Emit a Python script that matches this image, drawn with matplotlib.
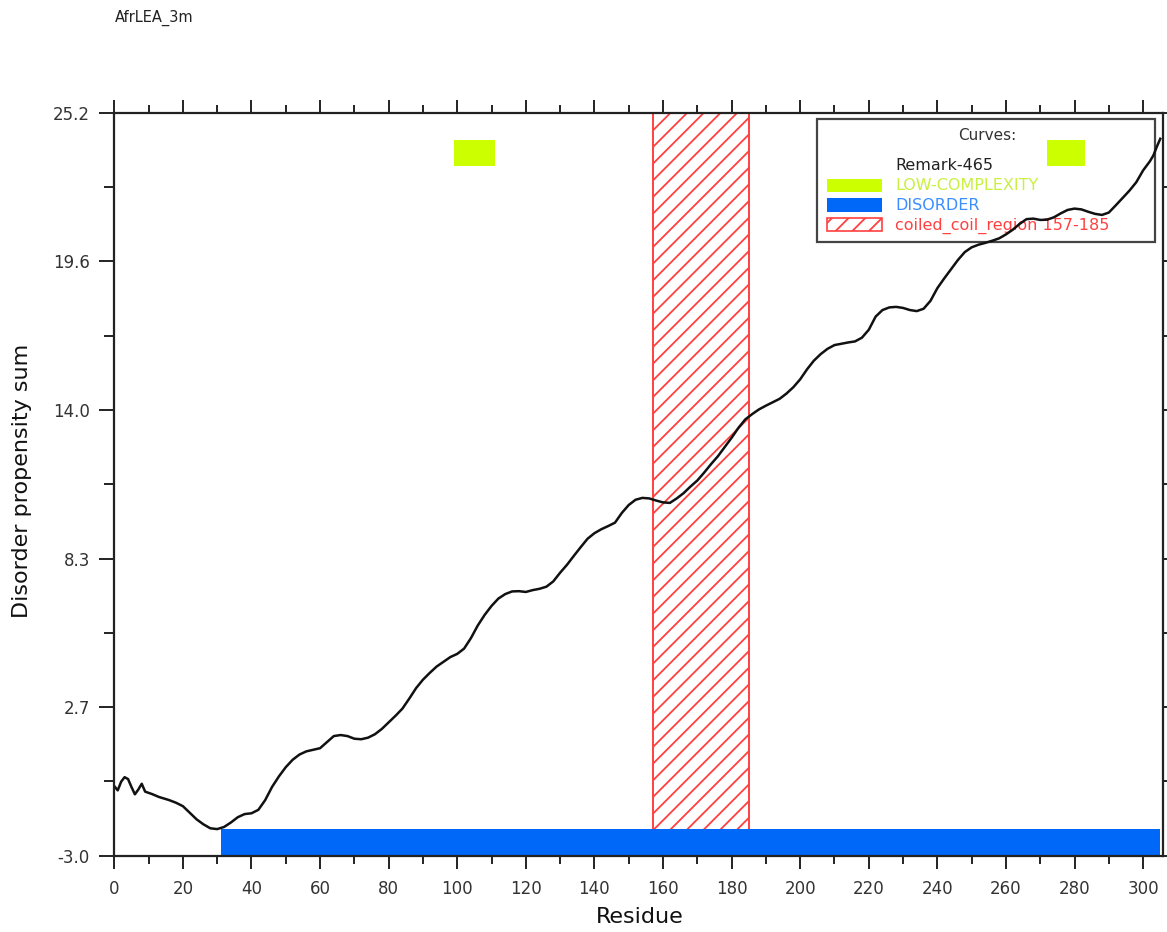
import matplotlib
matplotlib.use("Agg")
import matplotlib.pyplot as plt
from matplotlib.patches import Rectangle
import numpy as np

# ---------------- data ----------------
title = "AfrLEA_3m"
x_label = "Residue"
y_label = "Disorder propensity sum"

residues = [0, 1, 2, 3, 4, 5, 6, 7, 8, 9, 11, 13, 16, 18, 20, 22, 24, 26, 28, 30,
            32, 34, 36, 38, 40, 42, 44, 46, 48, 50, 52, 54, 56, 58, 60, 62, 64, 66,
            68, 70, 72, 74, 76, 78, 80, 82, 84, 86, 88, 90, 92, 94, 96, 98, 100,
            102, 104, 106, 108, 110, 112, 114, 116, 118, 120, 122, 124, 126, 128,
            130, 132, 134, 136, 138, 140, 142, 144, 146, 148, 150, 152, 154, 156,
            158, 160, 162, 164, 166, 168, 170, 172, 174, 176, 178, 180, 182, 184,
            186, 188, 190, 192, 194, 196, 198, 200, 202, 204, 206, 208, 210, 212,
            214, 216, 218, 220, 222, 224, 226, 228, 230, 232, 234, 236, 238, 240,
            242, 244, 246, 248, 250, 252, 254, 256, 258, 260, 262, 264, 266, 268,
            270, 272, 274, 276, 278, 280, 282, 284, 286, 288, 290, 292, 294, 296,
            298, 300, 302, 303, 304, 305]
propensity = [-0.32, -0.48, -0.15, 0.02, -0.05, -0.35, -0.63, -0.45, -0.23, -0.53,
              -0.62, -0.73, -0.85, -0.95, -1.08, -1.33, -1.58, -1.77, -1.92, -1.95,
              -1.87, -1.70, -1.50, -1.38, -1.35, -1.22, -0.85, -0.35, 0.05, 0.40,
              0.68, 0.88, 1.00, 1.06, 1.12, 1.35, 1.58, 1.62, 1.58, 1.48, 1.46,
              1.52, 1.65, 1.85, 2.10, 2.35, 2.62, 3.00, 3.40, 3.72, 3.98, 4.22,
              4.40, 4.58, 4.70, 4.90, 5.30, 5.78, 6.18, 6.52, 6.80, 6.97, 7.07,
              7.08, 7.05, 7.12, 7.17, 7.25, 7.45, 7.78, 8.08, 8.42, 8.75, 9.07,
              9.28, 9.43, 9.55, 9.68, 10.05, 10.35, 10.55, 10.62, 10.60, 10.52,
              10.45, 10.43, 10.60, 10.80, 11.05, 11.28, 11.58, 11.90, 12.20, 12.55,
              12.90, 13.28, 13.60, 13.80, 13.98, 14.12, 14.25, 14.38, 14.58, 14.82,
              15.12, 15.50, 15.83, 16.08, 16.28, 16.42, 16.47, 16.52, 16.56, 16.70,
              17.00, 17.50, 17.75, 17.85, 17.87, 17.83, 17.75, 17.71, 17.80, 18.10,
              18.58, 18.95, 19.30, 19.65, 19.95, 20.13, 20.23, 20.30, 20.38, 20.47,
              20.62, 20.80, 21.02, 21.20, 21.22, 21.17, 21.18, 21.27, 21.42, 21.55,
              21.60, 21.57, 21.48, 21.40, 21.36, 21.45, 21.72, 22.00, 22.28, 22.60,
              23.05, 23.40, 23.62, 23.95, 24.25]

low_complexity_regions = [(99, 111), (272, 283)]
low_complexity_y = (23.2, 24.2)
disorder_regions = [(31, 305)]
disorder_y = (-2.96, -1.95)
coiled_coil_regions = [(157, 185)]

x_major_ticks = list(range(0, 301, 20))
x_minor_ticks = list(range(10, 306, 20))
y_tick_values = [-2.96, 2.68, 8.32, 13.96, 19.60, 25.24]
y_tick_labels = ["-3.0", "2.7", "8.3", "14.0", "19.6", "25.2"]
x_limits = (0, 305.8)
y_limits = (-2.96, 25.24)

legend_title = "Curves:"
legend_curve_name = "Remark-465"
legend_labels = ["LOW-COMPLEXITY", "DISORDER", "coiled_coil_region 157-185"]

# ---------------- style ----------------
LC_COLOR = "#CCFF00"
LC_TEXT = "#C8F040"
DIS_COLOR = "#0068F8"
DIS_TEXT = "#3A8EFF"
CC_COLOR = "#FF4040"
AX_COLOR = "#222222"

plt.rcParams['font.family'] = ['DejaVu Sans']
plt.rcParams['hatch.linewidth'] = 1.3

fig = plt.figure(figsize=(11.67, 9.32), dpi=100)
W, H = 1167, 932
ax_left, ax_right, ax_top, ax_bot = 114.3, 1163.0, 112.7, 855.7
ax = fig.add_axes([ax_left / W, 1 - ax_bot / H, (ax_right - ax_left) / W, (ax_bot - ax_top) / H])

# coiled coil hatched region
for (a, b) in coiled_coil_regions:
    ax.add_patch(Rectangle((a, y_limits[0]), b - a, y_limits[1] - y_limits[0],
                           facecolor="none", edgecolor=CC_COLOR, hatch="//",
                           linewidth=1.4, zorder=1))

# disorder bar
for (a, b) in disorder_regions:
    ax.add_patch(Rectangle((a, disorder_y[0]), b - a, disorder_y[1] - disorder_y[0],
                           facecolor=DIS_COLOR, edgecolor="none", zorder=2))

# legend box (manual, axes coords)
def axc(px, py):
    return ((px - ax_left) / (ax_right - ax_left), (ax_bot - py) / (ax_bot - ax_top))

x0, y0 = axc(817, 241.7)
x1, y1 = axc(1155, 119.3)
ax.add_patch(Rectangle((x0, y0), x1 - x0, y1 - y0, transform=ax.transAxes,
                       facecolor="white", edgecolor="#444444", linewidth=1.6, zorder=3))
cx, cy = axc(987, 135)
ax.text(cx, cy, legend_title, transform=ax.transAxes, ha='center', va='center',
        fontsize=11, color="#333333", zorder=3.5)
tx, ty = axc(895, 165)
ax.text(tx, ty, legend_curve_name, transform=ax.transAxes, ha='left', va='center',
        fontsize=11.5, color="#222222", zorder=3.5)

handle_rows = [(179, 191.7, 185), (198, 211.7, 205), (218, 230.7, 225.5)]
face = [LC_COLOR, DIS_COLOR, "white"]
edge = ["none", "none", CC_COLOR]
hatches = [None, None, "//"]
tcolors = [LC_TEXT, DIS_TEXT, CC_COLOR]
for i, lab in enumerate(legend_labels):
    top, bot, mid = handle_rows[i]
    hx0, hy0 = axc(827, bot)
    hx1, hy1 = axc(882, top)
    ax.add_patch(Rectangle((hx0, hy0), hx1 - hx0, hy1 - hy0, transform=ax.transAxes,
                           facecolor=face[i], edgecolor=edge[i], hatch=hatches[i],
                           linewidth=1.2, zorder=3.5))
    lx, ly = axc(895, mid)
    ax.text(lx, ly, lab, transform=ax.transAxes, ha='left', va='center',
            fontsize=11.5, color=tcolors[i], zorder=3.5)

# low complexity boxes (drawn over the legend)
for (a, b) in low_complexity_regions:
    ax.add_patch(Rectangle((a, low_complexity_y[0]), b - a,
                           low_complexity_y[1] - low_complexity_y[0],
                           facecolor=LC_COLOR, edgecolor="none", zorder=5))

# curve
ax.plot(residues, propensity, color="#111111", linewidth=1.8, zorder=6)

ax.set_xlim(*x_limits)
ax.set_ylim(*y_limits)

ax.set_xticks(x_major_ticks)
ax.set_xticks(x_minor_ticks, minor=True)
ax.set_yticks(y_tick_values)
ax.set_yticklabels(y_tick_labels)
y_minor = [(y_tick_values[i] + y_tick_values[i + 1]) / 2 for i in range(len(y_tick_values) - 1)]
ax.set_yticks(y_minor, minor=True)

for s in ax.spines.values():
    s.set_color(AX_COLOR)
    s.set_linewidth(1.6)
    s.set_zorder(7)

ax.tick_params(axis='both', which='both', direction='out', top=True, right=True,
               color=AX_COLOR, width=1.4, labelcolor="#333333")
ax.tick_params(axis='x', which='major', length=9.5, labelsize=12, pad=8)
ax.tick_params(axis='x', which='minor', length=6)
ax.tick_params(axis='y', which='major', length=10.5, labelsize=12, pad=7)
ax.tick_params(axis='y', which='minor', length=7)

# labels
fig.text(22 / W, 1 - 481 / H, y_label, rotation=90, ha='center', va='center',
         fontsize=16, color="#111111")
fig.text(640 / W, 1 - 917 / H, x_label, ha='center', va='center',
         fontsize=16, color="#111111")
fig.text(115 / W, 1 - 18 / H, title, ha='left', va='center', fontsize=10.5, color="#222222")

fig.savefig("out.png", dpi=100)
